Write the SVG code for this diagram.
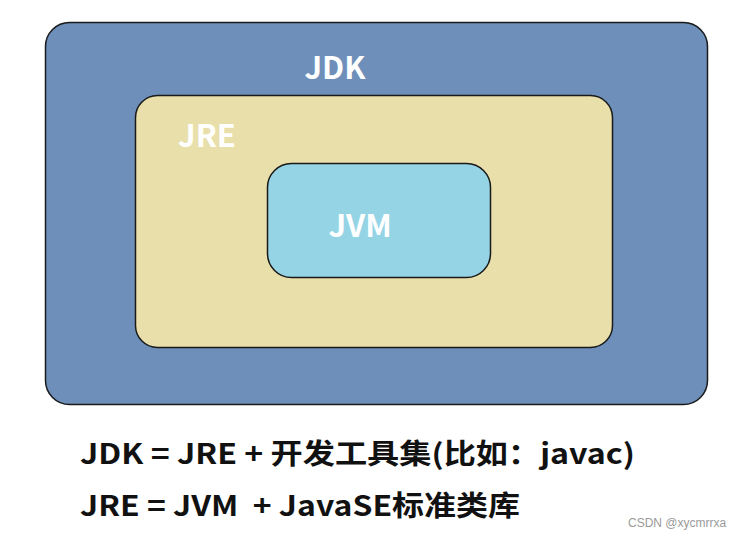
<svg xmlns="http://www.w3.org/2000/svg" width="744" height="540" viewBox="0 0 744 540">
<style>
.box{stroke:#1a1a1a;stroke-width:1.5}
.lbl{font-family:"Noto Sans CJK SC","Open Sans",sans-serif;font-weight:bold;font-size:31px;fill:#ffffff}
.eq{font-family:"Noto Sans CJK SC","Open Sans",sans-serif;font-weight:bold;font-size:28px;fill:#111111}
.wm{font-family:"Liberation Sans",sans-serif;font-size:12px;fill:#9a9a9a}
</style>
<rect width="744" height="540" fill="#ffffff"/>
<g id="jdk">
<rect class="box" x="45.5" y="22.5" width="662" height="382" rx="24" fill="#6d8fb9"/>
<text class="lbl" x="335" y="79" text-anchor="middle">JDK</text>
</g>
<g id="jre">
<rect class="box" x="135.5" y="95.5" width="477" height="252" rx="22" fill="#e8dfab"/>
<text class="lbl" x="207" y="147" text-anchor="middle">JRE</text>
</g>
<g id="jvm">
<rect class="box" x="267.5" y="163.5" width="223" height="114" rx="24" fill="#95d4e5"/>
<text class="lbl" x="360" y="237" text-anchor="middle">JVM</text>
</g>
<g id="connectors"></g>
<g id="formulas">
<text class="eq" x="80" y="464" textLength="555" lengthAdjust="spacingAndGlyphs">JDK = JRE + 开发工具集(比如：javac)</text>
<text class="eq" x="80" y="516" textLength="440" lengthAdjust="spacingAndGlyphs">JRE = JVM &#160;+ JavaSE标准类库</text>
</g>
<text class="wm" x="628" y="527">CSDN @xycmrrxa</text>
</svg>
